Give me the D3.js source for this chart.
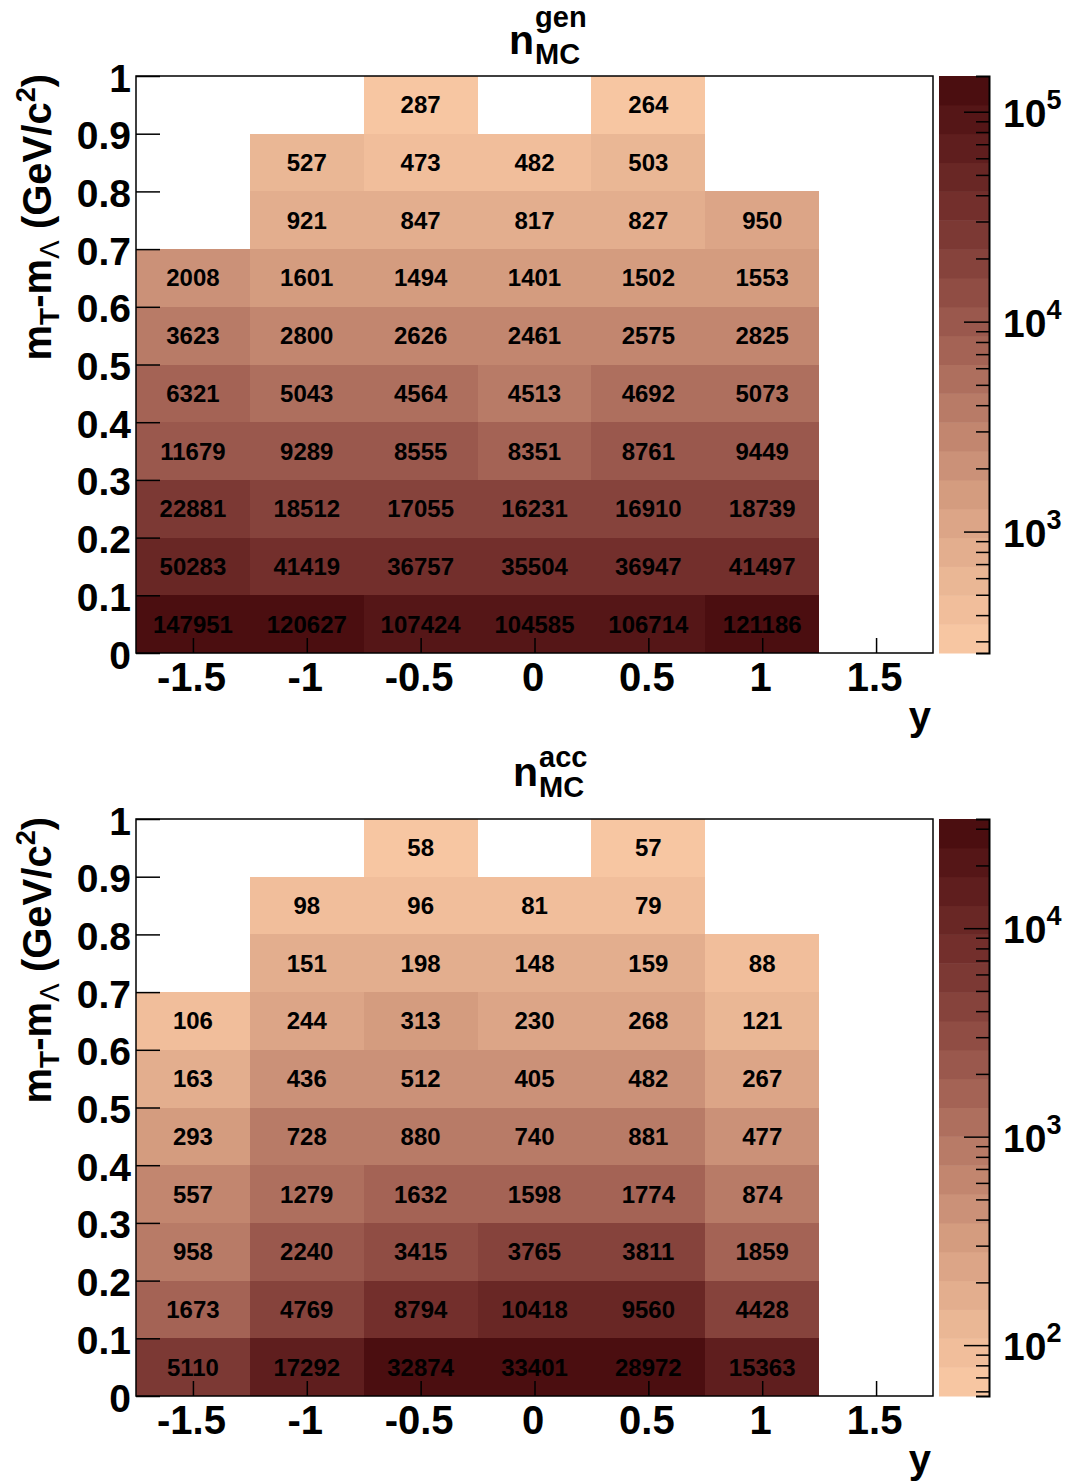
<!DOCTYPE html>
<html><head><meta charset="utf-8">
<script src="https://cdn.jsdelivr.net/npm/d3@7"></script>
<style>
body{margin:0;background:#fff}
svg{display:block}
text{font-family:"Liberation Sans",Arial,Helvetica,sans-serif;font-weight:bold;fill:#000}
</style>
</head><body>
<svg id="c" width="1071" height="1482"></svg>
<script>
// ---- data ----
const xCenters = [-1.5, -1, -0.5, 0, 0.5, 1, 1.5];
const yCenters = [0.05, 0.15, 0.25, 0.35, 0.45, 0.55, 0.65, 0.75, 0.85, 0.95];
const xTicks = [-1.5, -1, -0.5, 0, 0.5, 1, 1.5];
const xTickLabels = ["-1.5", "-1", "-0.5", "0", "0.5", "1", "1.5"];
const yTicks = [0, 0.1, 0.2, 0.3, 0.4, 0.5, 0.6, 0.7, 0.8, 0.9, 1];
const yTickLabels = ["0", "0.1", "0.2", "0.3", "0.4", "0.5", "0.6", "0.7", "0.8", "0.9", "1"];
// rows: from lowest y bin upward; columns follow xCenters
const genCounts = [
  [147951, 120627, 107424, 104585, 106714, 121186, null],
  [50283, 41419, 36757, 35504, 36947, 41497, null],
  [22881, 18512, 17055, 16231, 16910, 18739, null],
  [11679, 9289, 8555, 8351, 8761, 9449, null],
  [6321, 5043, 4564, 4513, 4692, 5073, null],
  [3623, 2800, 2626, 2461, 2575, 2825, null],
  [2008, 1601, 1494, 1401, 1502, 1553, null],
  [null, 921, 847, 817, 827, 950, null],
  [null, 527, 473, 482, 503, null, null],
  [null, null, 287, null, 264, null, null]
];
const accCounts = [
  [5110, 17292, 32874, 33401, 28972, 15363, null],
  [1673, 4769, 8794, 10418, 9560, 4428, null],
  [958, 2240, 3415, 3765, 3811, 1859, null],
  [557, 1279, 1632, 1598, 1774, 874, null],
  [293, 728, 880, 740, 881, 477, null],
  [163, 436, 512, 405, 482, 267, null],
  [106, 244, 313, 230, 268, 121, null],
  [null, 151, 198, 148, 159, 88, null],
  [null, 98, 96, 81, 79, null, null],
  [null, null, 58, null, 57, null, null]
];
const paletteStops = ["#f7c6a2", "#d9a283", "#a9685a", "#7a3430", "#4b0e10"];

// ---- drawing ----
const svg = d3.select("#c");
const NCONT = 20;
const palInterp = d3.interpolateRgbBasis(paletteStops);
const palette = d3.range(NCONT).map(i => palInterp(i / (NCONT - 1)));

const X0 = 136, X1 = 933, PX0 = 939, PX1 = 989;

function drawPanel(off, counts, supText, titleY) {
  const top = 76 + off, bot = 653 + off;
  const g = svg.append("g");
  const x = d3.scaleLinear().domain([-1.75, 1.75]).range([X0, X1]);
  const y = d3.scaleLinear().domain([0, 1]).range([bot, top]);
  const vals = counts.flat().filter(v => v != null);
  const zmin = d3.min(vals), zmax = d3.max(vals);
  const lmin = Math.log10(zmin), lmax = Math.log10(zmax);
  const z = d3.scaleLog().domain([zmin, zmax]).range([bot, top]);
  const band = v => Math.max(0, Math.min(NCONT - 1, Math.floor(0.01 + (Math.log10(v) - lmin) * NCONT / (lmax - lmin))));

  const cells = [];
  counts.forEach((row, j) => row.forEach((v, i) => { if (v != null) cells.push({xc: xCenters[i], yc: yCenters[j], v}); }));
  const bw = 0.25, bh = 0.05;
  g.selectAll("rect.cell").data(cells).join("rect").attr("class", "cell")
    .attr("x", d => x(d.xc - bw)).attr("width", d => x(d.xc + bw) - x(d.xc - bw))
    .attr("y", d => y(d.yc + bh)).attr("height", d => y(d.yc - bh) - y(d.yc + bh))
    .attr("fill", d => palette[band(d.v)]).attr("shape-rendering", "crispEdges");
  g.selectAll("text.cell").data(cells).join("text").attr("class", "cell")
    .attr("x", d => x(d.xc)).attr("y", d => y(d.yc)).attr("dy", 8.5)
    .attr("text-anchor", "middle").style("font-size", "24px").text(d => d.v);

  // axes
  const xa = g.append("g").attr("transform", `translate(0,${bot})`)
    .call(d3.axisBottom(x).tickValues(xTicks).tickSize(-15).tickPadding(10)
      .tickFormat((d, i) => xTickLabels[i]));
  xa.select(".domain").remove();
  xa.selectAll("line").attr("stroke", "#000").attr("stroke-width", 1.5);
  xa.selectAll("text").style("font-size", "40px").attr("font-family", null).attr("dy", "0.71em").attr("y", 10).attr("dx", -2);
  const ya = g.append("g").attr("transform", `translate(${X0},0)`)
    .call(d3.axisLeft(y).tickValues(yTicks).tickSize(-24).tickPadding(6)
      .tickFormat((d, i) => yTickLabels[i]));
  ya.select(".domain").remove();
  ya.selectAll("line").attr("stroke", "#000").attr("stroke-width", 1.5);
  ya.selectAll("text").style("font-size", "39px").attr("font-family", null).attr("dy", 15).attr("x", -5);

  // frame
  g.append("rect").attr("x", X0).attr("y", top).attr("width", X1 - X0).attr("height", bot - top)
    .attr("fill", "none").attr("stroke", "#000").attr("stroke-width", 1.5);

  // palette
  const edges = d3.range(NCONT + 1).map(i => Math.pow(10, lmin + i * (lmax - lmin) / NCONT));
  g.selectAll("rect.pal").data(d3.range(NCONT)).join("rect").attr("class", "pal")
    .attr("x", PX0).attr("width", PX1 - PX0)
    .attr("y", i => z(edges[i + 1])).attr("height", i => z(edges[i]) - z(edges[i + 1]) + 0.5)
    .attr("fill", i => palette[i]);
  const ticks = [];
  for (let k = Math.floor(lmin); k <= Math.ceil(lmax); k++)
    for (let m = 1; m <= 9; m++) { const v = m * Math.pow(10, k); if (v >= zmin && v <= zmax) ticks.push(v); }
  const za = g.append("g").attr("transform", `translate(${PX1},0)`)
    .call(d3.axisRight(z).tickValues(ticks).tickSize(-13).tickFormat(""));
  za.select(".domain").attr("stroke", "#000").attr("stroke-width", 2);
  za.selectAll(".tick line").attr("stroke", "#000").attr("stroke-width", 1.5)
    .attr("x2", d => Math.abs(Math.log10(d) - Math.round(Math.log10(d))) < 1e-9 ? -25 : -13);
  const majors = ticks.filter(d => Math.abs(Math.log10(d) - Math.round(Math.log10(d))) < 1e-9);
  majors.forEach(d => {
    const t = g.append("text").attr("x", 1003).attr("y", z(d) + 15).style("font-size", "39px");
    t.append("tspan").text("10");
    t.append("tspan").attr("dy", -18).style("font-size", "27px").text(String(Math.round(Math.log10(d))));
  });

  // titles
  const yt = g.append("text").attr("transform", `translate(51,${top - 2}) rotate(-90)`)
    .attr("text-anchor", "end").style("font-size", "40px");
  yt.append("tspan").text("m");
  yt.append("tspan").attr("dy", 8).style("font-size", "28px").text("T");
  yt.append("tspan").attr("dy", -8).text("-m");
  yt.append("tspan").attr("dy", 8).style("font-size", "28px").style("font-weight", "normal").text("Λ");
  yt.append("tspan").attr("dy", -8).text(" (GeV/c");
  yt.append("tspan").attr("dy", -16).style("font-size", "27px").text("2");
  yt.append("tspan").attr("dy", 16).text(")");

  g.append("text").attr("x", 931).attr("y", 730 + off).attr("text-anchor", "end").style("font-size", "40px").text("y");

  const n = g.append("text").attr("x", titleY.nx).attr("y", titleY.n).style("font-size", "41px").text("n");
  const nx2 = titleY.nx + n.node().getComputedTextLength() + 1;
  g.append("text").attr("x", nx2).attr("y", titleY.sup).style("font-size", "29px").text(supText);
  g.append("text").attr("x", nx2).attr("y", titleY.sub).style("font-size", "29px").text("MC");
}

drawPanel(0, genCounts, "gen", {nx: 509, n: 54, sup: 27, sub: 64});
drawPanel(743, accCounts, "acc", {nx: 513, n: 786, sup: 767, sub: 797});
</script>
</body></html>
